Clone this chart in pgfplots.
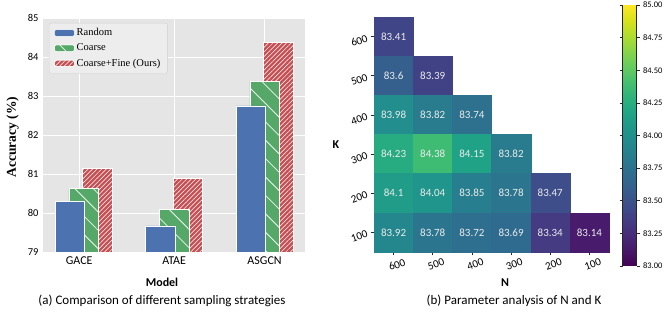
\documentclass[border=0pt]{standalone}
\usepackage{pgfplots}
\pgfplotsset{compat=1.18}
\usepackage{fontspec}
\setmainfont{Carlito}
\newfontfamily\timesf{Liberation Serif}
\usetikzlibrary{patterns.meta}
\definecolor{bblue}{RGB}{76,114,176}
\definecolor{bgreen}{RGB}{85,168,104}
\definecolor{bred}{RGB}{196,78,82}
\definecolor{bgc}{RGB}{229,229,229}
\definecolor{cellt}{RGB}{235,235,235}

\pgfplotstableread{
x y v
0 5 83.41
0 4 83.6
1 4 83.39
0 3 83.98
1 3 83.82
2 3 83.74
0 2 84.23
1 2 84.38
2 2 84.15
3 2 83.82
0 1 84.1
1 1 84.04
2 1 83.85
3 1 83.78
4 1 83.47
0 0 83.92
1 0 83.78
2 0 83.72
3 0 83.69
4 0 83.34
5 0 83.14
}\heat

\begin{document}
\begin{tikzpicture}
\useasboundingbox (0,0) rectangle (664bp,316bp);
\begin{axis}[
  at={(43bp,64bp)}, anchor=south west, scale only axis,
  width=262bp, height=234bp,
  xmin=-0.45, xmax=2.447, ymin=79, ymax=85,
  xtick={-0.05,1,2}, xticklabels={GACE,ATAE,ASGCN},
  ytick={79,80,...,85},
  axis background/.style={fill=bgc},
  axis line style={draw=none},
  major tick length=0pt,
  grid=major, grid style={white, line width=0.9bp},
  x tick label style={font=\fontsize{12bp}{14bp}\selectfont, yshift=-1.5bp},
  y tick label style={font=\fontsize{10.5bp}{12bp}\selectfont, xshift=-1bp},
  /pgf/number format/assume math mode=true,
  reverse legend,
  legend image code/.code={\draw[#1, draw=white, line width=0.4bp] (0bp,-3.3bp) rectangle (20bp,3.3bp);},
  legend style={at={(0.023,0.979)}, anchor=north west, fill=bgc!70!white, draw=black!18,
    rounded corners=2bp, font=\timesf\fontsize{10.5bp}{12.6bp}\selectfont,
    inner xsep=5bp, inner ysep=3.5bp, row sep=2.6bp, cells={anchor=west}},
]
\addplot[ybar, bar width=29.5bp, bar shift=13.7bp, fill=bred, draw=white, line width=0.5bp,
  postaction={pattern={Lines[angle=45,distance=3.2bp,line width=0.7bp]}, pattern color=white!85!bred}]
  coordinates {(0,81.15) (1,80.89) (2,84.37)};
\addlegendentry{Coarse+Fine (Ours)}
\addplot[ybar, bar width=29.5bp, bar shift=0bp, fill=bgreen, draw=white, line width=0.5bp,
  postaction={pattern={Lines[angle=-45,distance=13bp,line width=0.8bp]}, pattern color=white!90!bgreen}]
  coordinates {(0,80.63) (1,80.10) (2,83.38)};
\addlegendentry{Coarse}
\addplot[ybar, bar width=29.5bp, bar shift=-13.7bp, fill=bblue, draw=white, line width=0.5bp]
  coordinates {(0,80.29) (1,79.67) (2,82.75)};
\addlegendentry{Random}
\end{axis}

\begin{axis}[
  at={(374bp,64bp)}, anchor=south west, scale only axis,
  width=235bp, height=235bp,
  xmin=-0.5, xmax=5.5, ymin=-0.5, ymax=5.5,
  xtick={0,...,5}, xticklabels={600,500,400,300,200,100},
  ytick={0,...,5}, yticklabels={100,200,300,400,500,600},
  axis x line*=bottom, axis y line*=left,
  axis line style={-, black!85, line width=0.6bp},
  tick align=outside, major tick length=3.5bp, tick style={black!85, line width=0.6bp},
  x tick label style={rotate=20, anchor=north, yshift=-2.5bp, font=\fontsize{11bp}{13bp}\selectfont},
  y tick label style={rotate=20, anchor=east, font=\fontsize{11bp}{13bp}\selectfont},
  colormap/viridis, point meta min=83, point meta max=85,
  colorbar,
  colorbar style={
    at={(parent axis.south east)}, anchor=south west, xshift=5bp, yshift=-14bp,
    scale only axis, width=14bp, height=261bp,
    axis x line=none, axis y line=box,
    xtick=\empty,
    ytick={83,83.25,...,85},
    yticklabels={83.00,83.25,83.50,83.75,84.00,84.25,84.50,84.75,85.00},
    yticklabel pos=right,
    y tick label style={rotate=0, anchor=west, yshift=0bp, font=\fontsize{8.5bp}{10bp}\selectfont},
    tick align=outside, major tick length=3bp, tick style={black!85, line width=0.5bp},
    axis line style={black!85, line width=0.6bp},
  },
]
\addplot[scatter, only marks, mark=square*, mark size=19.6bp, scatter src=explicit,
  scatter/use mapped color={draw=mapped color, fill=mapped color, line width=0.3bp}]
  table[x=x, y=y, meta=v] {\heat};
\addplot[only marks, mark=none, point meta=explicit,
  nodes near coords={\pgfmathprintnumber[fixed,precision=2,assume math mode=true]{\pgfplotspointmeta}},
  every node near coord/.append style={anchor=center, text=cellt, font=\fontsize{11bp}{13bp}\selectfont}]
  table[x=x, y=y, meta=v] {\heat};
\end{axis}

\node[font=\fontsize{12bp}{14bp}\selectfont\bfseries] at (162bp,34bp) {Model};
\node[font=\timesf\fontsize{13.5bp}{16bp}\selectfont\bfseries, rotate=90] at (12.7bp,179bp) {Accuracy (\%)};
\node[font=\fontsize{13bp}{15bp}\selectfont] at (162bp,15bp) {(a) Comparison of different sampling strategies};
\node[font=\fontsize{12bp}{14bp}\selectfont\bfseries] at (505bp,33bp) {N};
\node[font=\fontsize{12bp}{14bp}\selectfont\bfseries] at (336bp,171bp) {K};
\node[font=\fontsize{13bp}{15bp}\selectfont] at (514bp,15bp) {(b) Parameter analysis of N and K};
\end{tikzpicture}
\end{document}
